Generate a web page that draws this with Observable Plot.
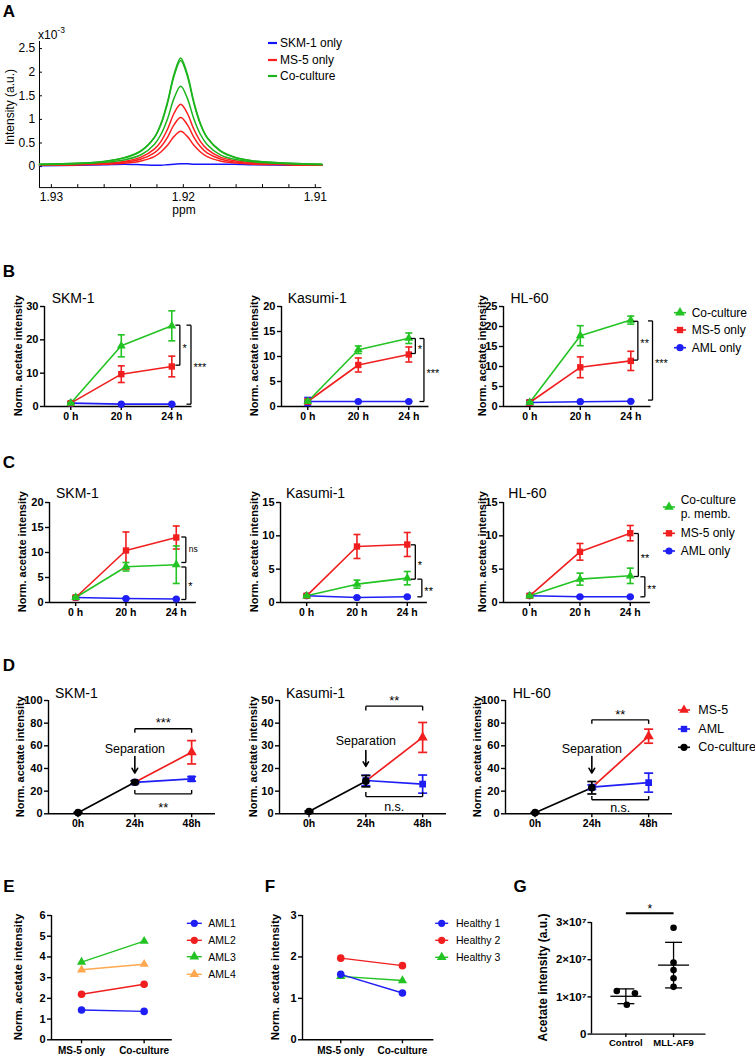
<!DOCTYPE html>
<html><head><meta charset="utf-8">
<script src="https://cdn.jsdelivr.net/npm/d3@7"></script>
<script src="https://cdn.jsdelivr.net/npm/@observablehq/plot@0.6"></script>
<style>
body{margin:0;background:#fff;}
#fig{position:relative;width:755px;height:1058px;background:#fff;overflow:hidden}
</style></head><body><div id="fig"></div>
<script>
// ---------------- DATA ----------------
// Panel A: NMR spectrum (intensity x10^-3) vs ppm
const aPpm = [1.9309,1.928,1.926,1.9245,1.9232,1.9222,1.9217,1.9212,1.9207,1.9202,1.9197,1.9192,1.9187,1.9182,1.9172,1.9162,1.9147,1.912,1.9095];
const aCo1 = [0.05,0.07,0.11,0.19,0.34,0.62,0.91,1.37,1.96,2.30,1.96,1.37,0.91,0.62,0.34,0.21,0.12,0.07,0.05];
const aCo2 = [0.05,0.07,0.11,0.18,0.33,0.61,0.89,1.34,1.92,2.25,1.92,1.34,0.89,0.61,0.33,0.20,0.12,0.07,0.05];
const aCo3 = [0.04,0.06,0.09,0.14,0.25,0.47,0.68,1.01,1.45,1.70,1.45,1.01,0.68,0.47,0.25,0.16,0.10,0.06,0.04];
const aMs1 = [0.04,0.05,0.07,0.11,0.20,0.37,0.53,0.79,1.13,1.32,1.13,0.79,0.53,0.37,0.20,0.13,0.08,0.05,0.04];
const aMs2 = [0.03,0.04,0.06,0.09,0.16,0.29,0.42,0.62,0.89,1.04,0.89,0.62,0.42,0.29,0.16,0.10,0.07,0.04,0.03];
const aMs3 = [0.03,0.04,0.05,0.07,0.12,0.21,0.31,0.45,0.64,0.75,0.64,0.45,0.31,0.21,0.12,0.08,0.05,0.04,0.03];
const aSkm = [0.02,0.03,0.04,0.05,0.04,0.03,0.03,0.04,0.05,0.06,0.06,0.05,0.05,0.05,0.05,0.05,0.04,0.03,0.03];
const aXTicks = [1.93,1.928,1.926,1.924,1.922,1.92,1.918,1.916,1.914,1.912,1.91];
const aYTicks = [0,0.5,1,1.5,2,2.5];
const aLegend = ["SKM-1 only","MS-5 only","Co-culture"];

// Panels B, C: time points
const timeBC = ["0 h","20 h","24 h"];
// B: co-culture / MS-5 only / AML only (mean, SD)
const bSkmCo = [1.0,18.2,24.2],  bSkmCoSD = [0.2,3.3,4.5];
const bSkmMs = [1.0,9.7,12.0],   bSkmMsSD = [0.3,2.5,3.1];
const bSkmAml = [1.0,0.7,0.7],   bSkmAmlSD = [0.1,0.1,0.1];
const bKasCo = [1.0,11.35,13.65], bKasCoSD = [0.3,0.75,1.05];
const bKasMs = [1.0,8.3,10.4],   bKasMsSD = [0.5,1.4,1.5];
const bKasAml = [1.0,1.0,1.0],   bKasAmlSD = [0.8,0.1,0.1];
const bHlCo = [1.0,17.7,21.6],   bHlCoSD = [0.2,2.5,1.0];
const bHlMs = [1.0,9.8,11.4],    bHlMsSD = [0.5,2.6,2.4];
const bHlAml = [1.0,1.2,1.3],    bHlAmlSD = [0.6,0.1,0.1];
const bSkmSig = [{x:2.16,y1:24.4,y2:12.4,label:"*"},{x:2.38,y1:24.4,y2:0.7,label:"***"}];
const bKasSig = [{x:2.13,y1:13.6,y2:10.6,label:"*"},{x:2.30,y1:13.6,y2:1.0,label:"***"}];
const bHlSig  = [{x:2.14,y1:21.3,y2:11.6,label:"**"},{x:2.43,y1:21.4,y2:1.6,label:"***"}];
const bLegend = ["Co-culture","MS-5 only","AML only"];

// C: co-culture p. memb. / MS-5 only / AML only
const cSkmCo = [1.0,7.15,7.55],  cSkmCoSD = [0.2,0.85,3.75];
const cSkmMs = [1.0,10.4,13.0],  cSkmMsSD = [0.3,3.7,2.3];
const cSkmAml = [1.0,0.8,0.7],   cSkmAmlSD = [0.1,0.1,0.1];
const cKasCo = [1.0,2.75,3.65],  cKasCoSD = [0.1,0.6,1.0];
const cKasMs = [1.0,8.4,8.7],    cKasMsSD = [0.2,1.8,1.8];
const cKasAml = [1.0,0.75,0.85], cKasAmlSD = [0.1,0.1,0.1];
const cHlCo = [1.0,3.5,4.0],     cHlCoSD = [0.1,0.9,1.15];
const cHlMs = [1.0,7.6,10.4],    cHlMsSD = [0.2,1.25,1.15];
const cHlAml = [1.0,0.85,0.85],  cHlAmlSD = [0.1,0.1,0.1];
const cSkmSig = [{x:2.19,y1:13.1,y2:8.0,label:"ns"},{x:2.19,y1:7.1,y2:0.6,label:"*"}];
const cKasSig = [{x:2.16,y1:8.65,y2:3.5,label:"*"},{x:2.29,y1:3.5,y2:0.85,label:"**"}];
const cHlSig  = [{x:2.16,y1:10.35,y2:3.9,label:"**"},{x:2.29,y1:3.85,y2:0.85,label:"**"}];
const cLegend = ["Co-culture\np. memb.","MS-5 only","AML only"];

// D: co-culture (0h,24h), then MS-5 / AML after separation (24h,48h)
const timeD = ["0h","24h","48h"];
const dSkmCo = [1.0,27.8],  dSkmCoSD = [0.3,1.2];
const dSkmMs = [27.8,54.3], dSkmMsSD = [0,10.3];
const dSkmAml = [27.8,30.8],dSkmAmlSD = [0,2.0];
const dKasCo = [1.0,14.4],  dKasCoSD = [0.3,2.5];
const dKasMs = [14.4,33.7], dKasMsSD = [0,6.6];
const dKasAml = [14.7,13.1],dKasAmlSD = [2.3,4.0];
const dHlCo = [1.0,23.0],   dHlCoSD = [0.3,5.5];
const dHlMs = [23.0,68.5],  dHlMsSD = [0,6.2];
const dHlAml = [23.5,27.5], dHlAmlSD = [2.0,8.4];
const dSkmSig = [{y:75,tip:71.5,label:"***",ly:83},{y:17.6,tip:21,label:"**",ly:8.2}];
const dKasSig = [{y:47.5,tip:45.6,label:"**",ly:51.5},{y:7.6,tip:9.6,label:"n.s.",ly:2.9}];
const dHlSig  = [{y:82.9,tip:79.4,label:"**",ly:90.6},{y:12.4,tip:15.6,label:"n.s.",ly:5.3}];
const dSkmSep = [{top:50.6,bottom:35.9,ty:57.4}];
const dKasSep = [{top:27.9,bottom:20.9,ty:32}];
const dHlSep  = [{top:50.6,bottom:35.9,ty:57.4}];
const dLegend = ["MS-5","AML","Co-culture"];

// E, F: MS-5 only vs Co-culture
const condEF = ["MS-5 only","Co-culture"];
const eAML1 = [1.44,1.37], eAML2 = [2.20,2.68], eAML3 = [3.75,4.76], eAML4 = [3.38,3.65];
const eNames = ["AML1","AML2","AML3","AML4"];
const fH1 = [1.58,1.13], fH2 = [1.97,1.79], fH3 = [1.53,1.43];
const fNames = ["Healthy 1","Healthy 2","Healthy 3"];

// G: acetate intensity (a.u.)
const groupsG = ["Control","MLL-AF9"];
const gControl = [1.16e7,1.10e7,0.79e7];
const gControlJitter = [-0.19,0.19,0.02];
const gMLL = [2.86e7,1.92e7,1.72e7,1.50e7,1.27e7];

// ---------------- STYLE ----------------
const FONT = '"Liberation Sans", Arial, Helvetica, sans-serif';
const GREEN = "#22c322", RED = "#f01e1e", BLUE = "#1f1ff5", BLACK = "#000000", ORANGE = "#ffa84f";
const A_BLUE = "#1414ff", A_RED = "#ff1e1e", A_GREEN = "#1cb41c";
const fig = document.getElementById("fig");

const hline = half => ({draw(ctx){ctx.moveTo(-half,0);ctx.lineTo(half,0);}});
const leftTick = {draw(ctx){ctx.moveTo(-4.5,0);ctx.lineTo(0,0);}};

function subplot({x0,y0,w,h,xDomain,yDomain,xTicks,xFormat,yTicks,yFormat,marks,
  mL=60,mR=70,mT=30,mB=30,tickSize=4,xPad=2,yPad=2,yFont=11,xFont=10.5,weight="bold",axisW=1.4}) {
  const svg = Plot.plot({
    width:mL+w+mR, height:mT+h+mB,
    marginLeft:mL, marginRight:mR, marginTop:mT, marginBottom:mB,
    style:`background: transparent; overflow: visible; font-family: ${FONT};`,
    x:{type:"linear", domain:xDomain},
    y:{type:"linear", domain:yDomain},
    marks:[
      Plot.ruleX([xDomain[0]], {y1:yDomain[0], y2:yDomain[1], strokeWidth:axisW}),
      Plot.ruleY([yDomain[0]], {x1:xDomain[0], x2:xDomain[1], strokeWidth:axisW}),
      Plot.axisY({ticks:yTicks, tickFormat:yFormat, tickSize, tickPadding:yPad, fontSize:yFont, fontWeight:weight, strokeWidth:axisW, label:null}),
      Plot.axisX({ticks:xTicks, tickFormat:xFormat, tickSize, tickPadding:xPad, fontSize:xFont, fontWeight:weight, strokeWidth:axisW, label:null}),
      ...marks
    ]
  });
  svg.style.position = "absolute";
  svg.style.left = (x0-mL)+"px";
  svg.style.top = (y0-mT)+"px";
  fig.appendChild(svg);
  return svg;
}

const rowsOf = (mean, sd, t0=0) => mean.map((m,i)=>({t:i+t0, m, sd:sd[i]}));

function errMarks(rows, color, capHalf=3.5, sw=1.6) {
  const r = rows.filter(d=>d.sd>0);
  return [
    Plot.ruleX(r, {x:"t", y1:d=>d.m-d.sd, y2:d=>d.m+d.sd, stroke:color, strokeWidth:sw}),
    Plot.dot(r, {x:"t", y:d=>d.m-d.sd, symbol:hline(capHalf), stroke:color, fill:"none", strokeWidth:sw}),
    Plot.dot(r, {x:"t", y:d=>d.m+d.sd, symbol:hline(capHalf), stroke:color, fill:"none", strokeWidth:sw})
  ];
}

// ---------- B/C growth panels ----------
function growth({x0,y0,w,yMax,yTicks,series,sig}) {
  const marks = [];
  for (const s of series) marks.push(Plot.line(rowsOf(s.mean,s.sd), {x:"t", y:"m", stroke:s.color, strokeWidth:1.6}));
  for (const s of series) {
    const rows = rowsOf(s.mean,s.sd);
    marks.push(...errMarks(rows, s.color));
    marks.push(Plot.dot(rows, {x:"t", y:"m", symbol:s.symbol, fill:s.color, r:s.symbol==="triangle"?3.3:3.6}));
  }
  marks.push(Plot.link(sig, {x1:"x", x2:"x", y1:"y1", y2:"y2", strokeWidth:1.3}));
  marks.push(Plot.dot(sig, {x:"x", y:"y1", symbol:leftTick, stroke:"#000", fill:"none", strokeWidth:1.3}));
  marks.push(Plot.dot(sig, {x:"x", y:"y2", symbol:leftTick, stroke:"#000", fill:"none", strokeWidth:1.3}));
  marks.push(Plot.text(sig.filter(d=>d.label.includes("*")), {x:"x", y:d=>(d.y1+d.y2)/2, text:"label", textAnchor:"start", dx:2.5, dy:3, fontSize:11}));
  marks.push(Plot.text(sig.filter(d=>!d.label.includes("*")), {x:"x", y:d=>(d.y1+d.y2)/2, text:"label", textAnchor:"start", dx:3, dy:0, fontSize:8.5}));
  subplot({x0,y0,w,h:100,xDomain:[-0.52,2.4],yDomain:[0,yMax],xTicks:[0,1,2],xFormat:i=>timeBC[i],yTicks,yFormat:d3.format("d"),marks});
}

const ser = (co,coSD,ms,msSD,aml,amlSD) => [
  {mean:aml, sd:amlSD, color:BLUE, symbol:"circle"},
  {mean:ms, sd:msSD, color:RED, symbol:"square"},
  {mean:co, sd:coSD, color:GREEN, symbol:"triangle"}
];

growth({x0:44.3,y0:305.7,w:147.5,yMax:30,yTicks:[0,10,20,30],series:ser(bSkmCo,bSkmCoSD,bSkmMs,bSkmMsSD,bSkmAml,bSkmAmlSD),sig:bSkmSig});
growth({x0:280.7,y0:305.7,w:147.5,yMax:20,yTicks:[0,5,10,15,20],series:ser(bKasCo,bKasCoSD,bKasMs,bKasMsSD,bKasAml,bKasAmlSD),sig:bKasSig});
growth({x0:503.3,y0:305.7,w:147.5,yMax:25,yTicks:[0,5,10,15,20,25],series:ser(bHlCo,bHlCoSD,bHlMs,bHlMsSD,bHlAml,bHlAmlSD),sig:bHlSig});

growth({x0:49,y0:501.7,w:146.9,yMax:20,yTicks:[0,5,10,15,20],series:ser(cSkmCo,cSkmCoSD,cSkmMs,cSkmMsSD,cSkmAml,cSkmAmlSD),sig:cSkmSig});
growth({x0:280,y0:501.7,w:146.9,yMax:15,yTicks:[0,5,10,15],series:ser(cKasCo,cKasCoSD,cKasMs,cKasMsSD,cKasAml,cKasAmlSD),sig:cKasSig});
growth({x0:503.3,y0:501.7,w:146.9,yMax:15,yTicks:[0,5,10,15],series:ser(cHlCo,cHlCoSD,cHlMs,cHlMsSD,cHlAml,cHlAmlSD),sig:cHlSig});

// ---------- D separation panels ----------
function sepPanel({x0,y0,yMax,yTicks,co,coSD,ms,msSD,aml,amlSD,sig,sep}) {
  const coR = rowsOf(co,coSD,0), msR = rowsOf(ms,msSD,1), amlR = rowsOf(aml,amlSD,1);
  const segs = sig.flatMap(b=>[{x1:1,x2:2,y1:b.y,y2:b.y},{x1:1,x2:1,y1:b.y,y2:b.tip},{x1:2,x2:2,y1:b.y,y2:b.tip}]);
  const marks = [
    Plot.line(coR, {x:"t", y:"m", stroke:BLACK, strokeWidth:1.7}),
    Plot.line(msR, {x:"t", y:"m", stroke:RED, strokeWidth:1.7}),
    Plot.line(amlR, {x:"t", y:"m", stroke:BLUE, strokeWidth:1.7}),
    ...errMarks(msR, RED, 4.5, 1.7),
    ...errMarks(amlR, BLUE, 4.5, 1.7),
    Plot.dot(msR.slice(1), {x:"t", y:"m", symbol:"triangle", fill:RED, r:3.8}),
    Plot.dot(amlR, {x:"t", y:"m", symbol:"square", fill:BLUE, r:3.8}),
    ...errMarks(coR, BLACK, 4.5, 1.7),
    Plot.dot(coR, {x:"t", y:"m", symbol:"circle", fill:BLACK, r:3.8}),
    Plot.link(segs, {x1:"x1", x2:"x2", y1:"y1", y2:"y2", strokeWidth:1.4}),
    Plot.text(sig.filter(d=>d.label.includes("*")), {x:1.5, y:"ly", text:"label", fontSize:13, dy:3.5}),
    Plot.text(sig.filter(d=>!d.label.includes("*")), {x:1.5, y:"ly", text:"label", fontSize:12.5}),
    Plot.arrow(sep, {x1:1, x2:1, y1:"top", y2:"bottom", strokeWidth:1.6, headLength:7, headAngle:60}),
    Plot.text(sep, {x:1, y:"ty", text:()=>"Separation", fontSize:12.5})
  ];
  subplot({x0,y0,w:167,h:113.3,xDomain:[-0.52,2.42],yDomain:[0,yMax],xTicks:[0,1,2],xFormat:i=>timeD[i],yTicks,yFormat:d3.format("d"),marks});
}
sepPanel({x0:47.7,y0:700,yMax:100,yTicks:[0,20,40,60,80,100],co:dSkmCo,coSD:dSkmCoSD,ms:dSkmMs,msSD:dSkmMsSD,aml:dSkmAml,amlSD:dSkmAmlSD,sig:dSkmSig,sep:dSkmSep});
sepPanel({x0:279.3,y0:700,yMax:50,yTicks:[0,10,20,30,40,50],co:dKasCo,coSD:dKasCoSD,ms:dKasMs,msSD:dKasMsSD,aml:dKasAml,amlSD:dKasAmlSD,sig:dKasSig,sep:dKasSep});
sepPanel({x0:505,y0:700,yMax:100,yTicks:[0,20,40,60,80,100],co:dHlCo,coSD:dHlCoSD,ms:dHlMs,msSD:dHlMsSD,aml:dHlAml,amlSD:dHlAmlSD,sig:dHlSig,sep:dHlSep});

// ---------- E / F ----------
function pairPanel({x0,w,xDomain,yMax,series}) {
  const marks = [];
  for (const s of series) {
    const rows = s.values.map((v,i)=>({t:i, v}));
    marks.push(Plot.line(rows, {x:"t", y:"v", stroke:s.color, strokeWidth:1.4}));
    marks.push(Plot.dot(rows, {x:"t", y:"v", symbol:s.symbol, fill:s.color, r:s.symbol==="triangle"?3.4:3.8}));
  }
  subplot({x0,y0:915,w,h:124.3,xDomain,yDomain:[0,yMax],xTicks:[0,1],xFormat:i=>condEF[i],yTicks:d3.range(0,yMax+1),yFormat:d3.format("d"),xFont:10,xPad:3,marks});
}
pairPanel({x0:50.7,w:120.8,xDomain:[-0.48,1.45],yMax:6,series:[
  {values:eAML4,color:ORANGE,symbol:"triangle"},
  {values:eAML3,color:GREEN,symbol:"triangle"},
  {values:eAML2,color:RED,symbol:"circle"},
  {values:eAML1,color:BLUE,symbol:"circle"}]});
pairPanel({x0:301.7,w:131.4,xDomain:[-0.62,1.51],yMax:3,series:[
  {values:fH3,color:GREEN,symbol:"triangle"},
  {values:fH2,color:RED,symbol:"circle"},
  {values:fH1,color:BLUE,symbol:"circle"}]});

// ---------- G ----------
{
  const ctrl = gControl.map((v,i)=>({x:0+gControlJitter[i], v}));
  const mll = gMLL.map(v=>({x:1, v}));
  const stats = [gControl,gMLL].map((arr,i)=>({t:i, m:d3.mean(arr), sd:d3.deviation(arr)}));
  const fmt = d => d===0 ? "0" : `${d/1e7}×10⁷`;
  const marks = [
    Plot.dot(ctrl.concat(mll), {x:"x", y:"v", fill:BLACK, r:3.3}),
    Plot.dot(stats, {x:"t", y:"m", symbol:hline(15.5), stroke:BLACK, fill:"none", strokeWidth:1.3}),
    ...errMarks(stats, BLACK, 8.5, 1.3),
    Plot.link([{a:0,b:1,y:3.25e7}], {x1:"a", x2:"b", y1:"y", y2:"y", strokeWidth:2}),
    Plot.text([{x:0.5,y:3.45e7}], {x:"x", y:"y", text:()=>"*", fontSize:12, dy:3.5})
  ];
  subplot({x0:590.7,y0:921.7,w:114.5,h:111.6,xDomain:[-0.72,1.68],yDomain:[0,3e7],xTicks:[0,1],xFormat:i=>groupsG[i],
    yTicks:[0,1e7,2e7,3e7],yFormat:fmt,tickSize:3.5,yPad:1.5,xPad:2,yFont:11.5,xFont:9.5,axisW:1.4,marks});
}

// ---------- A ----------
{
  const curves = [
    {id:"s", vals:aSkm, color:A_BLUE},
    {id:"m1", vals:aMs1, color:A_RED},{id:"m2", vals:aMs2, color:A_RED},{id:"m3", vals:aMs3, color:A_RED},
    {id:"c3", vals:aCo3, color:A_GREEN},{id:"c2", vals:aCo2, color:A_GREEN},{id:"c1", vals:aCo1, color:A_GREEN}
  ];
  const marks = curves.map(c=>Plot.line(aPpm.map((x,i)=>({x, y:c.vals[i]})), {x:"x", y:"y", stroke:c.color, strokeWidth:1.5, curve:"catmull-rom"}));
  const fmt = d => Math.abs(d*100-Math.round(d*100))<1e-6 ? d.toFixed(2) : "";
  subplot({x0:39.3,y0:40.9,w:282.4,h:146.1,xDomain:[1.9309,1.9095],yDomain:[-0.445,2.65],
    xTicks:aXTicks,xFormat:fmt,yTicks:aYTicks,yFormat:d=>String(d),tickSize:-3,yPad:7.3,xPad:8,
    yFont:12,xFont:12,weight:"normal",axisW:1,marks});
}

// ---------------- TEXT OVERLAY ----------------
const ov = d3.create("svg").attr("width",755).attr("height",1058)
  .style("position","absolute").style("left","0px").style("top","0px").style("overflow","visible")
  .style("font-family",FONT);
fig.appendChild(ov.node());
function txt(x,y,s,{size=12,weight="normal",anchor="start",rotate=0}={}) {
  const t = ov.append("text").attr("x",x).attr("y",y).attr("font-size",size).attr("font-weight",weight)
    .attr("text-anchor",anchor).attr("dominant-baseline","central").attr("fill","#000").text(s);
  if (rotate) t.attr("transform",`rotate(${rotate},${x},${y})`);
  return t;
}
// panel letters
[["A",9,11],["B",9,271],["C",9,462],["D",9,665],["E",9,886],["F",270,886],["G",520,886]]
  .forEach(([s,x,y])=>txt(x,y,s,{size:17,weight:"bold",anchor:"middle"}));

// A texts
txt(10,107,"Intensity (a.u.)",{size:12,anchor:"middle",rotate:-90});
txt(184,210,"ppm",{size:12,anchor:"middle"});
{
  const t = txt(38,35,"x10",{size:12});
  t.append("tspan").attr("font-size",8.5).attr("dy",-5).text("-3");
}
function legend(items,{symX,half,textX,ys,size=12,r=3.6,lineW=1.6}) {
  items.forEach((it,i)=>{
    const y = ys[i];
    ov.append("line").attr("x1",symX-half).attr("x2",symX+half).attr("y1",y).attr("y2",y)
      .attr("stroke",it.color).attr("stroke-width",lineW);
    if (it.symbol) ov.append("path").attr("d",d3.symbol(it.symbol,Math.PI*r*r)()).attr("transform",`translate(${symX},${y})`).attr("fill",it.color);
    const lines = it.label.split("\n");
    lines.forEach((l,j)=>txt(textX, y + (j-(lines.length-1)/2)*13.3, l, {size}));
  });
}
legend(aLegend.map((l,i)=>({label:l,color:[A_BLUE,A_RED,A_GREEN][i]})),{symX:272.5,half:4.5,textX:280,ys:[43,60,76],lineW:2.2});

// B texts
[["SKM-1",51.7],["Kasumi-1",287.7],["HL-60",510.5]].forEach(([s,x])=>txt(x,298,s,{size:14}));
[18,254,482].forEach(x=>txt(x,355.7,"Norm. acetate intensity",{size:11,weight:"bold",anchor:"middle",rotate:-90}));
legend(bLegend.map((l,i)=>({label:l,color:[GREEN,RED,BLUE][i],symbol:[d3.symbolTriangle,d3.symbolSquare,d3.symbolCircle][i]})),{symX:680,half:6,textX:691.7,ys:[312.7,330,347.7]});

// C texts
[["SKM-1",56],["Kasumi-1",286],["HL-60",508.3]].forEach(([s,x])=>txt(x,493,s,{size:14}));
[22,254,482].forEach(x=>txt(x,551.7,"Norm. acetate intensity",{size:11,weight:"bold",anchor:"middle",rotate:-90}));
legend(cLegend.map((l,i)=>({label:l,color:[GREEN,RED,BLUE][i],symbol:[d3.symbolTriangle,d3.symbolSquare,d3.symbolCircle][i]})),{symX:669,half:6,textX:680.7,ys:[507,533.3,551]});

// D texts
[["SKM-1",55],["Kasumi-1",286],["HL-60",512.7]].forEach(([s,x])=>txt(x,692.7,s,{size:14}));
[20,253,477].forEach(x=>txt(x,756.7,"Norm. acetate intensity",{size:11,weight:"bold",anchor:"middle",rotate:-90}));
legend(dLegend.map((l,i)=>({label:l,color:[RED,BLUE,BLACK][i],symbol:[d3.symbolTriangle,d3.symbolSquare,d3.symbolCircle][i]})),{symX:684,half:6,textX:698.3,ys:[710,729,747.3],size:12.5});

// E, F, G texts
txt(18,977,"Norm. acetate intensity",{size:11.5,weight:"bold",anchor:"middle",rotate:-90});
txt(275,977,"Norm. acetate intensity",{size:11.5,weight:"bold",anchor:"middle",rotate:-90});
txt(543.3,977.5,"Acetate intensity (a.u.)",{size:12,weight:"bold",anchor:"middle",rotate:-90});
legend(eNames.map((l,i)=>({label:l,color:[BLUE,RED,GREEN,ORANGE][i],symbol:[d3.symbolCircle,d3.symbolCircle,d3.symbolTriangle,d3.symbolTriangle][i]})),{symX:194.3,half:7.5,textX:208.3,ys:[923.3,940.3,956.7,974.3],size:10.5,lineW:1.4});
legend(fNames.map((l,i)=>({label:l,color:[BLUE,RED,GREEN][i],symbol:[d3.symbolCircle,d3.symbolCircle,d3.symbolTriangle][i]})),{symX:441.7,half:6.5,textX:456,ys:[923.3,940.3,957.3],size:10.5,lineW:1.4});
</script></body></html>
